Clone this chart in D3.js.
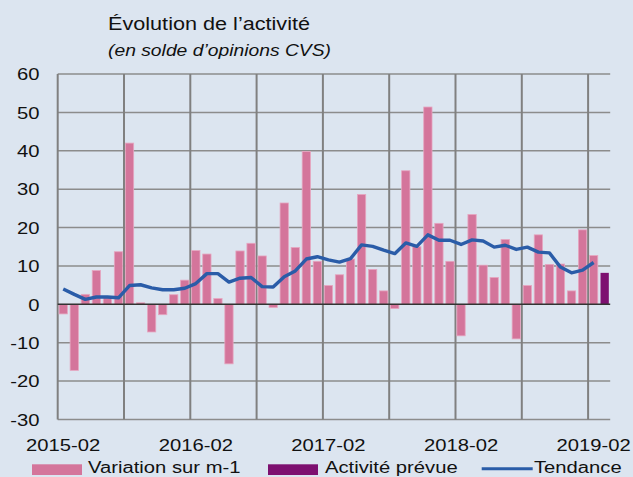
<!DOCTYPE html>
<html>
<head>
<meta charset="utf-8">
<script src="https://cdn.jsdelivr.net/npm/d3@7"></script>
<style>
  body { margin: 0; background: #dce5f0; }
  svg { display: block; font-family: "Liberation Sans", Arial, sans-serif; }
</style>
</head>
<body>
<div id="chart"></div>
<script>
// data
const months = [
  "2015-02","2015-03","2015-04","2015-05","2015-06","2015-07","2015-08","2015-09","2015-10","2015-11","2015-12",
  "2016-01","2016-02","2016-03","2016-04","2016-05","2016-06","2016-07","2016-08","2016-09","2016-10","2016-11","2016-12",
  "2017-01","2017-02","2017-03","2017-04","2017-05","2017-06","2017-07","2017-08","2017-09","2017-10","2017-11","2017-12",
  "2018-01","2018-02","2018-03","2018-04","2018-05","2018-06","2018-07","2018-08","2018-09","2018-10","2018-11","2018-12",
  "2019-01","2019-02","2019-03"
];
const variation = [
  -2.5, -17.2, 2.6, 8.8, 2.0, 13.7, 42.0, 0.4, -7.2, -2.7,
  2.5, 6.3, 14.0, 13.1, 1.5, -15.5, 13.9, 15.9, 12.6, -0.8,
  26.4, 14.8, 39.8, 11.2, 4.9, 7.7, 11.8, 28.6, 9.1, 3.5,
  -1.1, 34.8, 15.0, 51.4, 21.1, 11.2, -8.2, 23.4, 10.2, 7.0,
  16.9, -9.0, 4.9, 18.1, 10.4, 10.5, 3.5, 19.4, 12.7
];
const tendance = [
  4.0, 2.6, 1.3, 1.9, 1.9, 1.7, 4.9, 5.1, 4.3, 3.8,
  3.8, 4.2, 5.4, 8.0, 8.0, 5.8, 6.8, 7.0, 4.6, 4.5,
  7.2, 8.7, 11.8, 12.4, 11.6, 11.0, 11.9, 15.5, 15.1, 14.1,
  13.2, 16.0, 15.1, 18.1, 16.7, 16.7, 15.6, 16.8, 16.5, 14.9,
  15.4, 14.3, 14.9, 13.6, 13.4, 9.7, 8.2, 8.9, 10.9
];
const prevue = [{ month: "2019-03", value: 8.2 }];
const yTicks = [-30, -20, -10, 0, 10, 20, 30, 40, 50, 60];
const xTickLabels = ["2015-02", "2016-02", "2017-02", "2018-02", "2019-02"];

// layout
const W = 633, H = 477;
const plot = { left: 57.7, right: 610.2, top: 74, bottom: 419.5 };
const sx = 1.17; // text in the source is stretched horizontally

const pink = "#d4759b", pinkEdge = "#e6a6c0", purple = "#7d1070", blue = "#2a5ca8";

const svg = d3.select("#chart").append("svg")
  .attr("width", W).attr("height", H);

svg.append("rect").attr("width", W).attr("height", H).attr("fill", "#dce5f0");

const x = d3.scaleBand()
  .domain(months)
  .range([plot.left, plot.right])
  .paddingInner(0.25)
  .paddingOuter(0.125);

const xIdx = d3.scaleLinear().domain([0, months.length]).range([plot.left, plot.right]);

const y = d3.scaleLinear().domain([-30, 60]).range([plot.bottom, plot.top]);

// horizontal grid
svg.append("g").selectAll("line")
  .data(yTicks.filter(d => d !== 0))
  .join("line")
  .attr("x1", plot.left).attr("x2", plot.right)
  .attr("y1", d => y(d)).attr("y2", d => y(d))
  .attr("stroke", "#8c8c8c").attr("stroke-width", 1.5);

// vertical grid every 6 months
svg.append("g").selectAll("line")
  .data(d3.range(0, months.length, 6))
  .join("line")
  .attr("x1", d => xIdx(d)).attr("x2", d => xIdx(d))
  .attr("y1", plot.top).attr("y2", plot.bottom)
  .attr("stroke", "#808080").attr("stroke-width", 2);

// bars
svg.append("g").selectAll("rect")
  .data(variation.map((v, i) => ({ month: months[i], value: v })))
  .join("rect")
  .attr("x", d => x(d.month))
  .attr("width", x.bandwidth())
  .attr("y", d => y(Math.max(0, d.value)))
  .attr("height", d => Math.abs(y(d.value) - y(0)))
  .attr("fill", pink)
  .attr("stroke", pinkEdge)
  .attr("stroke-width", 0.8);

svg.append("g").selectAll("rect")
  .data(prevue)
  .join("rect")
  .attr("x", d => x(d.month))
  .attr("width", x.bandwidth())
  .attr("y", d => y(Math.max(0, d.value)))
  .attr("height", d => Math.abs(y(d.value) - y(0)))
  .attr("fill", purple);

// zero line
svg.append("line")
  .attr("x1", plot.left).attr("x2", plot.right)
  .attr("y1", y(0)).attr("y2", y(0))
  .attr("stroke", "#333").attr("stroke-width", 1.5);

// trend line
const line = d3.line()
  .x((d, i) => x(months[i]) + x.bandwidth() / 2)
  .y(d => y(d));

svg.append("path")
  .datum(tendance)
  .attr("d", line)
  .attr("fill", "none")
  .attr("stroke", blue)
  .attr("stroke-width", 3.4)
  .attr("stroke-linejoin", "round");

// y tick labels
svg.append("g").selectAll("text")
  .data(yTicks)
  .join("text")
  .attr("transform", d => `translate(39.5,${y(d) + 6.3}) scale(${sx},1)`)
  .attr("text-anchor", "end")
  .style("font-size", "17.3px")
  .attr("fill", "#111")
  .text(d => d);

// x tick labels
svg.append("g").selectAll("text")
  .data(xTickLabels)
  .join("text")
  .attr("transform", d => `translate(${x(d) + x.bandwidth() / 2},450.7) scale(${sx},1)`)
  .attr("text-anchor", "middle")
  .style("font-size", "17.3px")
  .attr("fill", "#111")
  .text(d => d);

// title
svg.append("text")
  .attr("transform", `translate(108,30) scale(${sx},1)`)
  .style("font-size", "18.5px")
  .attr("fill", "#111")
  .text("Évolution de l’activité");

svg.append("text")
  .attr("transform", `translate(108,56) scale(${sx},1)`)
  .style("font-size", "16.5px")
  .style("font-style", "italic")
  .attr("fill", "#111")
  .text("(en solde d’opinions CVS)");

// legend
const legend = svg.append("g");
legend.append("rect").attr("x", 32).attr("y", 464.3).attr("width", 50).attr("height", 10.7).attr("fill", pink);
legend.append("text")
  .attr("transform", `translate(88,473) scale(${sx},1)`)
  .style("font-size", "17.3px").attr("fill", "#111")
  .text("Variation sur m-1");

legend.append("rect").attr("x", 268).attr("y", 464.3).attr("width", 50).attr("height", 10.7).attr("fill", purple);
legend.append("text")
  .attr("transform", `translate(325,473) scale(${sx},1)`)
  .style("font-size", "17.3px").attr("fill", "#111")
  .text("Activité prévue");

legend.append("line")
  .attr("x1", 481.7).attr("x2", 532.7)
  .attr("y1", 468.7).attr("y2", 468.7)
  .attr("stroke", blue).attr("stroke-width", 3);
legend.append("text")
  .attr("transform", `translate(534,473) scale(${sx},1)`)
  .style("font-size", "17.3px").attr("fill", "#111")
  .text("Tendance");
</script>
</body>
</html>
